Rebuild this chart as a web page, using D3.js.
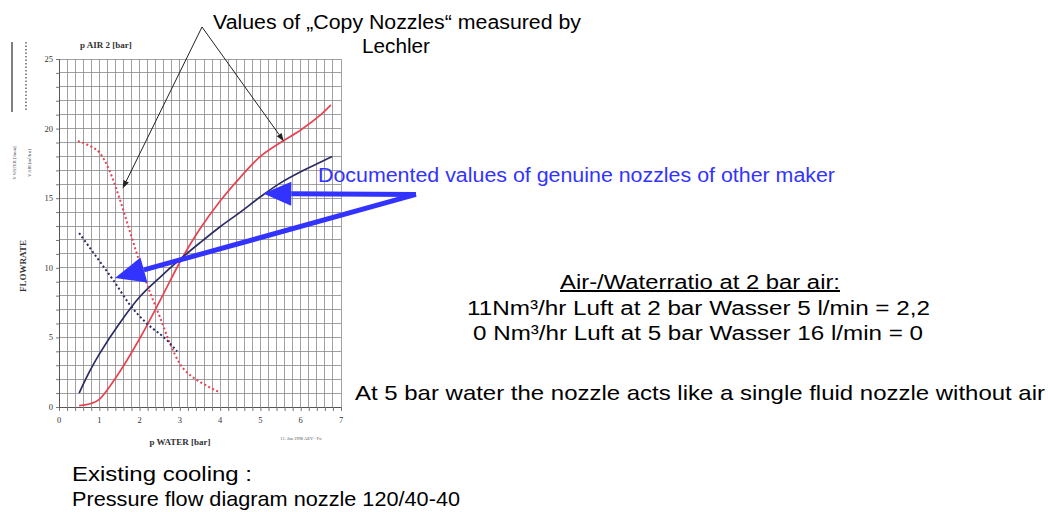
<!DOCTYPE html>
<html lang="en">
<head>
<meta charset="UTF-8">
<title>Pressure flow diagram nozzle 120/40-40</title>
<script src="https://d3js.org/d3.v7.min.js"></script>
<style>
  body { margin: 0; background: #fff; }
  svg { display: block; }
  .sans { font-family: Arial, "Liberation Sans", sans-serif; }
  .serif { font-family: "Times New Roman", "Liberation Serif", serif; }
  .grid line { stroke: #8a8a8a; stroke-width: 0.8; shape-rendering: crispEdges; }
  .tick-label { font-size: 8.5px; fill: #333; }
</style>
</head>
<body>
<svg id="chart" width="1048" height="512"></svg>
<script>
// --- data (x = p WATER [bar], y = flowrate) ---
const airCopy = [[0.5,0.1],[0.8,0.25],[1.0,0.55],[1.5,2.5],[2.0,4.9],[2.5,7.6],[3.0,10.4],
  [3.5,12.8],[4.0,14.8],[4.5,16.5],[5.0,18.0],[5.5,19.0],[6.0,19.9],[6.5,21.0],[6.75,21.7]];
const airGenuine = [[0.5,1.0],[0.75,2.5],[1.0,3.8],[1.5,6.0],[2.0,7.9],[2.5,9.3],[3.0,10.6],
  [3.5,11.8],[4.0,12.95],[4.5,14.0],[5.0,15.1],[5.5,16.1],[6.0,16.9],[6.5,17.6],[6.78,18.0]];
const waterCopy = [[0.47,19.1],[0.8,18.7],[1.0,18.3],[1.25,17.0],[1.5,15.0],[1.75,12.7],[2.0,10.4],
  [2.25,8.3],[2.5,6.5],[2.75,4.6],[3.0,3.1],[3.25,2.3],[3.5,1.8],[3.75,1.4],[3.95,1.1]];
const waterGenuine = [[0.5,12.5],[1.0,10.5],[1.35,9.1],[1.77,7.3],[2.18,6.0],[2.68,4.8],[2.93,4.0]];

const xTicks = [0,1,2,3,4,5,6,7];
const yTicks = [0,5,10,15,20,25];

// annotation anchors in data units
const blackApex = [3.55, 27.3];
const blackTips = [[1.58, 15.7], [5.58, 19.1]];
const blueStart = [8.86, 15.27];
const blueTips = [[5.07, 15.34], [1.39, 9.27]];

const svg = d3.select("#chart");
const x = d3.scaleLinear().domain([0, 7]).range([59, 341]);
const y = d3.scaleLinear().domain([0, 25]).range([407, 59]);

// grid
const grid = svg.append("g").attr("class", "grid");
grid.selectAll(".v").data(d3.range(0, 35.01, 1).map(i => i * 0.2))
  .enter().append("line")
  .attr("x1", d => x(d)).attr("x2", d => x(d))
  .attr("y1", y(25)).attr("y2", y(0));
grid.selectAll(".h").data(d3.range(0, 26))
  .enter().append("line")
  .attr("x1", x(0)).attr("x2", x(7))
  .attr("y1", d => y(d)).attr("y2", d => y(d));

// axes
svg.append("g")
  .attr("transform", `translate(0,${y(0)})`)
  .call(d3.axisBottom(x).tickValues(d3.range(0, 35.01, 1).map(i => i * 0.2)).tickSize(4).tickFormat(""))
  .call(g => g.select(".domain").attr("stroke", "#555"))
  .call(g => g.selectAll(".tick line").attr("stroke", "#777"));
svg.append("g")
  .attr("transform", `translate(${x(0)},0)`)
  .call(d3.axisLeft(y).tickValues(d3.range(0, 26)).tickSize(3).tickFormat(""))
  .call(g => g.select(".domain").attr("stroke", "#555"))
  .call(g => g.selectAll(".tick line").attr("stroke", "#777"));

svg.append("g").selectAll("text").data(xTicks).enter().append("text")
  .attr("class", "serif tick-label")
  .attr("x", d => x(d)).attr("y", 423)
  .attr("text-anchor", "middle").text(d => d);
svg.append("g").selectAll("text").data(yTicks).enter().append("text")
  .attr("class", "serif tick-label")
  .attr("x", 53).attr("y", d => y(d) + 3)
  .attr("text-anchor", "end").text(d => d);

// axis titles
svg.append("text").attr("class", "serif").attr("x", 80).attr("y", 48)
  .attr("font-size", 9).attr("font-weight", "bold").attr("fill", "#333").text("p AIR 2 [bar]");
svg.append("text").attr("class", "serif").attr("x", 180).attr("y", 445)
  .attr("text-anchor", "middle").attr("font-size", 9).attr("font-weight", "bold").attr("fill", "#333")
  .text("p WATER [bar]");
svg.append("text").attr("class", "serif")
  .attr("transform", "translate(26,266) rotate(-90)")
  .attr("text-anchor", "middle").attr("font-size", 9).attr("font-weight", "bold").attr("fill", "#333")
  .text("FLOWRATE");
svg.append("text").attr("class", "serif").attr("x", 301).attr("y", 440)
  .attr("text-anchor", "middle").attr("font-size", 4.5).attr("fill", "#555")
  .text("11. Jan 1998 AEV - Fo");

// legend at left
svg.append("line").attr("x1", 12).attr("x2", 12).attr("y1", 42).attr("y2", 112)
  .attr("stroke", "#555").attr("stroke-width", 1.5);
svg.append("line").attr("x1", 26).attr("x2", 26).attr("y1", 42).attr("y2", 112)
  .attr("stroke", "#666").attr("stroke-width", 1.5).attr("stroke-dasharray", "1.5,2");
svg.append("text").attr("class", "serif")
  .attr("transform", "translate(16,163) rotate(-90)")
  .attr("text-anchor", "middle").attr("font-size", 4.5).attr("fill", "#555").text("V WATER [l/min]");
svg.append("text").attr("class", "serif")
  .attr("transform", "translate(31,163) rotate(-90)")
  .attr("text-anchor", "middle").attr("font-size", 4.5).attr("fill", "#555").text("V AIR [m³/h n]");

// curves
const smooth = d3.line().x(d => x(d[0])).y(d => y(d[1])).curve(d3.curveCatmullRom.alpha(0.5));
const mono = d3.line().x(d => x(d[0])).y(d => y(d[1])).curve(d3.curveMonotoneX);
const red = "#e8424f", navy = "#2b2b66";
svg.append("path").datum(airCopy).attr("d", smooth)
  .attr("fill", "none").attr("stroke", red).attr("stroke-width", 1.7);
svg.append("path").datum(airGenuine).attr("d", smooth)
  .attr("fill", "none").attr("stroke", navy).attr("stroke-width", 1.7);
svg.append("path").datum(waterCopy).attr("d", mono)
  .attr("fill", "none").attr("stroke", red).attr("stroke-width", 2).attr("stroke-dasharray", "2,2.5");
svg.append("path").datum(waterGenuine).attr("d", mono)
  .attr("fill", "none").attr("stroke", navy).attr("stroke-width", 2).attr("stroke-dasharray", "2,2.5");

// arrows
function arrow(from, to, color, width, headLen, headHalf) {
  const x1 = x(from[0]), y1 = y(from[1]), x2 = x(to[0]), y2 = y(to[1]);
  const a = Math.atan2(y2 - y1, x2 - x1);
  const bx = x2 - headLen * Math.cos(a), by = y2 - headLen * Math.sin(a);
  svg.append("line").attr("x1", x1).attr("y1", y1).attr("x2", bx).attr("y2", by)
    .attr("stroke", color).attr("stroke-width", width);
  const px = -Math.sin(a) * headHalf, py = Math.cos(a) * headHalf;
  svg.append("polygon")
    .attr("points", `${x2},${y2} ${bx + px},${by + py} ${bx - px},${by - py}`)
    .attr("fill", color);
}
blackTips.forEach(t => arrow(blackApex, t, "#222", 1, 8, 3));
const blue = "#3333ff";
arrow(blueStart, blueTips[0], blue, 5, 28, 12);
arrow(blueStart, blueTips[1], blue, 5, 30, 13);

// annotation texts, widths fitted to the original
function note(txt, px, py, len, opts = {}) {
  const t = svg.append("text").attr("class", "sans")
    .attr("x", px).attr("y", py)
    .attr("font-size", opts.size || 21)
    .attr("fill", opts.fill || "#000")
    .attr("textLength", len).attr("lengthAdjust", "spacingAndGlyphs")
    .text(txt);
  if (opts.underline) t.attr("text-decoration", "underline");
  return t;
}
note("Values of \u201eCopy Nozzles\u201c measured by", 213, 29, 368, {size: 20});
note("Lechler", 362, 53, 68, {size: 20});
note("Documented values of genuine nozzles of other maker", 318, 182, 517, {size: 20, fill: blue});
note("Air-/Waterratio at 2 bar air:", 560, 289, 280, {size: 20, underline: true});
note("11Nm³/hr Luft at 2 bar Wasser 5 l/min = 2,2", 467, 315, 463, {size: 20});
note("0 Nm³/hr Luft at 5 bar Wasser 16 l/min = 0", 473, 340, 450, {size: 20});
note("At 5 bar water the nozzle acts like a single fluid nozzle without air", 355, 400, 690, {size: 21});
note("Existing cooling :", 72, 481, 180, {size: 21});
note("Pressure flow diagram nozzle 120/40-40", 72, 506, 388, {size: 21});
</script>
</body>
</html>
